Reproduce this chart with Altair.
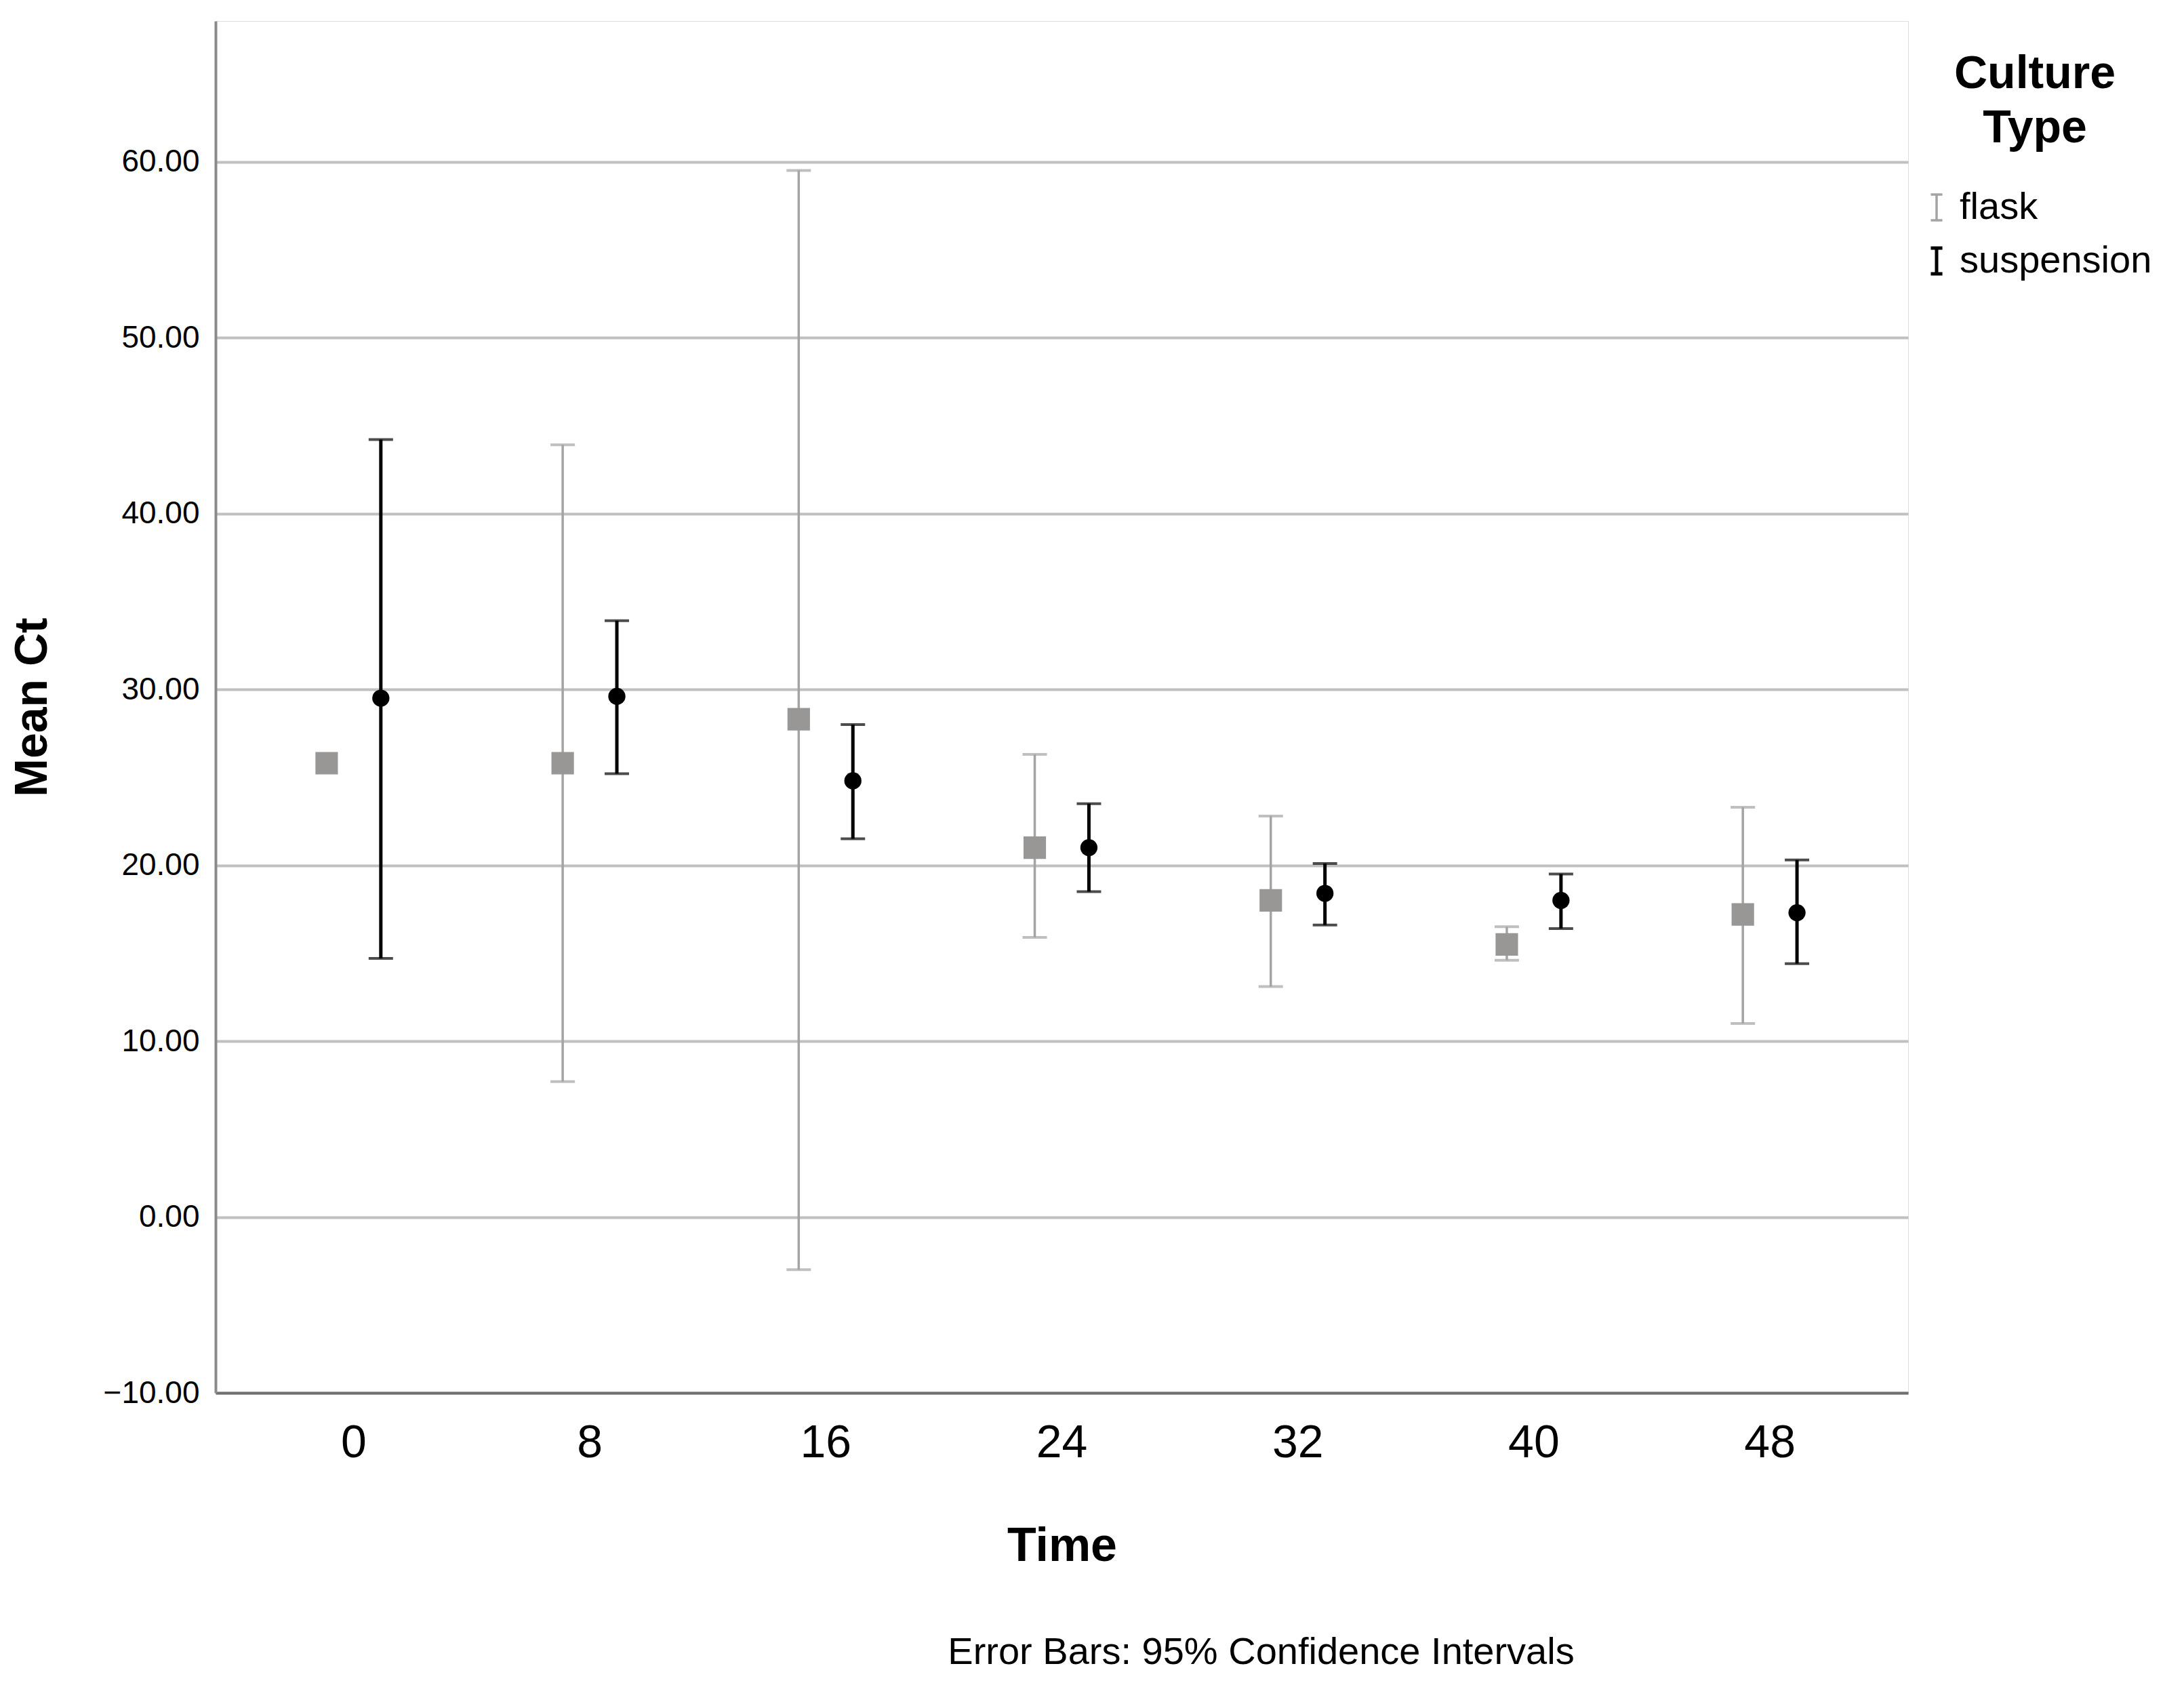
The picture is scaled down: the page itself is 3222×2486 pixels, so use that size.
import altair as alt
import pandas as pd

times = ["0", "8", "16", "24", "32", "40", "48"]
cultures = ["flask", "suspension"]

flask_mean = [25.8, 25.8, 28.3, 21.0, 18.0, 15.5, 17.2]
flask_lower = [None, 7.7, -3.0, 15.9, 13.1, 14.6, 11.0]
flask_upper = [None, 43.9, 59.5, 26.3, 22.8, 16.5, 23.3]

susp_mean = [29.5, 29.6, 24.8, 21.0, 18.4, 18.0, 17.3]
susp_lower = [14.7, 25.2, 21.5, 18.5, 16.6, 16.4, 14.4]
susp_upper = [44.2, 33.9, 28.0, 23.5, 20.1, 19.5, 20.3]

y_ticks = [-10, 0, 10, 20, 30, 40, 50, 60]

rows = []
for i, t in enumerate(times):
    rows.append({"Time": t, "Culture": "flask", "mean": flask_mean[i],
                 "lower": flask_lower[i], "upper": flask_upper[i]})
    rows.append({"Time": t, "Culture": "suspension", "mean": susp_mean[i],
                 "lower": susp_lower[i], "upper": susp_upper[i]})
df = pd.DataFrame(rows)
df_err = df.dropna(subset=["lower", "upper"])

FONT = "Liberation Sans"
GRAY_BAR = "#a4a4a4"
GRAY_PT = "#999696"

x_enc = alt.X("Time:N", sort=times,
              scale=alt.Scale(paddingInner=0.541, paddingOuter=0.356),
              axis=alt.Axis(title="Time", labelAngle=0, ticks=False, grid=False,
                            domainColor="#6f6f6f", domainWidth=4,
                            labelFontSize=68, labelPadding=40, labelFont=FONT,
                            labelColor="#000000",
                            titleFont=FONT, titleFontSize=70, titleFontWeight="bold",
                            titleColor="#000000", titlePadding=84))
xoff = alt.XOffset("Culture:N", sort=cultures,
                   scale=alt.Scale(domain=cultures, paddingInner=0, paddingOuter=0))
y_scale = alt.Scale(domain=[-10, 68], nice=False, zero=False)

rules = alt.Chart(df_err).mark_rule().encode(
    x=x_enc,
    xOffset=xoff,
    y=alt.Y("lower:Q", scale=y_scale,
            axis=alt.Axis(title="Mean Ct", values=y_ticks, format=".2f",
                          grid=True, gridColor="#c0c0c0", gridWidth=4,
                          ticks=False, domainColor="#8a8a8a", domainWidth=4,
                          labelFont=FONT, labelFontSize=46, labelColor="#000000",
                          labelPadding=24,
                          titleFont=FONT, titleFontSize=68, titleFontWeight="bold",
                          titleColor="#000000", titlePadding=70)),
    y2="upper:Q",
    color=alt.Color("Culture:N", sort=cultures,
                    scale=alt.Scale(domain=cultures, range=[GRAY_BAR, "#000000"]),
                    legend=alt.Legend(
                        title=["Culture", "Type"], orient="none",
                        legendX=2511, legendY=45,
                        titleFont=FONT, titleFontSize=68, titleFontWeight="bold",
                        titleColor="#000000", titleAlign="center", titleAnchor="middle",
                        titlePadding=54, titleLineHeight=80, titleLimit=1000,
                        labelFont=FONT, labelFontSize=56, labelColor="#000000",
                        labelOffset=6, rowPadding=22, labelLimit=1000,
                        symbolType="M-0.45,-1H0.45M0,-1V1M-0.45,1H0.45",
                        symbolSize=1444, symbolStrokeWidth=4)),
    strokeWidth=alt.StrokeWidth("Culture:N", sort=cultures,
                                scale=alt.Scale(domain=cultures, range=[3.5, 5]),
                                legend=None),
)

fill_scale = alt.Scale(domain=cultures, range=[GRAY_BAR, "#000000"])

caps_low = alt.Chart(df_err).mark_tick(size=36, thickness=4).encode(
    x=x_enc, xOffset=xoff,
    y=alt.Y("lower:Q", scale=y_scale),
    fill=alt.Fill("Culture:N", scale=fill_scale, legend=None),
)
caps_up = alt.Chart(df_err).mark_tick(size=36, thickness=4).encode(
    x=x_enc, xOffset=xoff,
    y=alt.Y("upper:Q", scale=y_scale),
    fill=alt.Fill("Culture:N", scale=fill_scale, legend=None),
)

flask_pts = alt.Chart(df[df["Culture"] == "flask"]).mark_point(
    shape="square", filled=True, size=1100, opacity=1, color=GRAY_PT).encode(
    x=x_enc, xOffset=xoff,
    y=alt.Y("mean:Q", scale=y_scale),
)
susp_pts = alt.Chart(df[df["Culture"] == "suspension"]).mark_point(
    shape="circle", filled=True, size=640, opacity=1, color="#000000").encode(
    x=x_enc, xOffset=xoff,
    y=alt.Y("mean:Q", scale=y_scale),
)

chart = alt.layer(rules, caps_low, caps_up, flask_pts, susp_pts).properties(
    width=2497, height=2024,
    padding={"left": 6, "top": 23, "right": 5, "bottom": 5},
    title=alt.TitleParams(text="Error Bars: 95% Confidence Intervals",
                          orient="bottom", anchor="middle", dx=294, offset=95,
                          font=FONT, fontSize=56, fontWeight="normal",
                          color="#000000"),
).configure_view(strokeOpacity=0).configure(background="#ffffff")

chart.save("out.html", embed_options={"renderer": "svg", "actions": False})
